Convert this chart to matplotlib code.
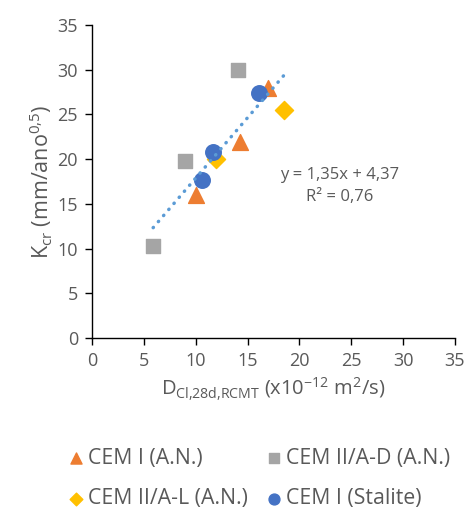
import numpy as np
import matplotlib.pyplot as plt

plt.rcParams['font.family'] = ['Open Sans', 'DejaVu Sans']
plt.rcParams['mathtext.fontset'] = 'custom'
plt.rcParams['mathtext.rm'] = 'Open Sans'
plt.rcParams['mathtext.it'] = 'Open Sans'

# D (x10^-12 m2/s) vs Kcr (mm/ano^0,5)
cem1_x = [10.0, 14.3, 17.0]
cem1_y = [16.0, 21.9, 27.9]
cem2d_x = [5.9, 9.0, 14.1]
cem2d_y = [10.3, 19.8, 30.0]
cem2l_x = [12.0, 18.5]
cem2l_y = [20.0, 25.5]
stal_x = [10.6, 11.7, 16.1]
stal_y = [17.7, 20.8, 27.4]

slope, intercept = 1.35, 4.37
r2 = 0.76

txt = '#595959'

fig = plt.figure(figsize=(4.67, 5.08), dpi=100)
ax = fig.add_axes([0.197, 0.3346, 0.777, 0.6164])

ax.scatter(cem1_x, cem1_y, marker='^', s=130, color='#ED7D31', label='CEM I (A.N.)', zorder=3)
ax.scatter(cem2d_x, cem2d_y, marker='s', s=110, color='#A5A5A5', label='CEM II/A-D (A.N.)', zorder=3)
ax.scatter(cem2l_x, cem2l_y, marker='D', s=85, color='#FFC000', label='CEM II/A-L (A.N.)', zorder=3)
ax.scatter(stal_x, stal_y, marker='o', s=125, color='#4472C4', label='CEM I (Stalite)', zorder=4)

# linear trend over all points
all_x = cem1_x + cem2d_x + cem2l_x + stal_x
xt = np.array([min(all_x), max(all_x)])
ax.plot(xt, slope * xt + intercept, color='#5B9BD5', lw=2.5,
        linestyle=(0, (0.1, 2.2)), dash_capstyle='round', zorder=5)

eq = 'y = {:.2f}x + {:.2f}\nR² = {:.2f}'.format(slope, intercept, r2).replace('.', ',')
ax.text(23.9, 17.0, eq, ha='center', va='center', fontsize=12, color=txt, linespacing=1.45)

ax.set_xlim(0, 35)
ax.set_ylim(0, 35)
ax.set_xticks(np.arange(0, 36, 5))
ax.set_yticks(np.arange(0, 36, 5))
for s in ['top', 'right']:
    ax.spines[s].set_visible(False)
for s in ['left', 'bottom']:
    ax.spines[s].set_color('black')
    ax.spines[s].set_linewidth(1.0)
ax.tick_params(direction='out', length=5, width=1, colors='black',
               labelcolor=txt, labelsize=13, pad=5)

ax.set_xlabel(r'D$_{\mathregular{Cl{,}28d{,}RCMT}}$ (x10$^{-12}$ m$^{2}$/s)',
              fontsize=14.5, color=txt, labelpad=4)
ax.set_ylabel(r'K$_{\mathregular{cr}}$ (mm/ano$^{0{,}5}$)', fontsize=15.5, color=txt, labelpad=2)

h, l = ax.get_legend_handles_labels()
order = [0, 2, 1, 3]
fig.legend([h[i] for i in order], [l[i] for i in order], ncol=2, loc='center',
           bbox_to_anchor=(0.553, 0.058), frameon=False,
           fontsize=15.3, labelcolor=txt, handletextpad=0.1, columnspacing=0.8,
           labelspacing=0.9, handlelength=0.9, markerscale=0.7)

fig.savefig('out.png', dpi=100)
